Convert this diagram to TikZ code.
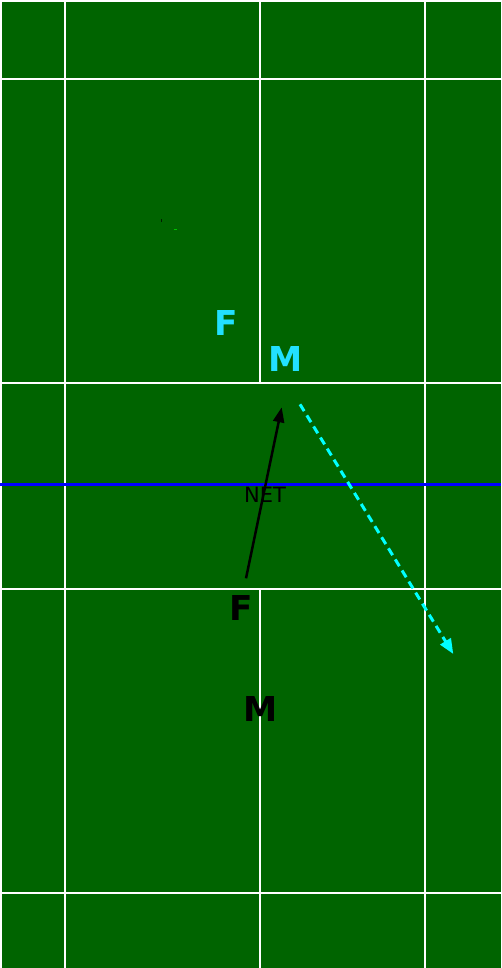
\documentclass[tikz,border=0pt]{standalone}
\usepackage{fontspec}
\setmainfont{DejaVu Sans}
\usetikzlibrary{arrows.meta}
\definecolor{court}{RGB}{0,100,0}
\definecolor{plcyan}{RGB}{34,224,255}
\definecolor{arrcyan}{RGB}{0,255,255}
\definecolor{netblue}{RGB}{0,0,255}
\tikzset{
  courtline/.style={draw=white,line width=2pt},
  player/.style={font=\fontsize{34.3}{34.3}\selectfont\bfseries,inner sep=0pt,anchor=center},
  cyanplayer/.style={player,text=plcyan},
  blackplayer/.style={player,text=black},
  netlabel/.style={font=\fontsize{21}{21}\selectfont,text=black,inner sep=0pt},
  shotarrow/.style={draw=black,line width=2.5pt,-{Triangle[length=15pt,width=11pt]}},
  cyanarrow/.style={draw=arrcyan,line width=3pt,dash pattern=on 8pt off 5pt,-{Triangle[length=15pt,width=12pt]}}
}
\begin{document}
\begin{tikzpicture}[x=1pt,y=-1pt]
\useasboundingbox (0,0) rectangle (501,968);
\fill[court] (0,0) rectangle (501,968);
% court lines
\draw[courtline] (1,0) -- (1,968);
\draw[courtline] (0,1) -- (501,1);
\draw[courtline] (65,0) -- (65,968);
\draw[courtline] (425,0) -- (425,968);
\draw[courtline] (0,79) -- (501,79);
\draw[courtline] (0,383) -- (501,383);
\draw[courtline] (0,589) -- (501,589);
\draw[courtline] (0,892.5) -- (501,892.5);
\draw[courtline] (260,0) -- (260,383);
\draw[courtline] (260,589) -- (260,968);
% net
\draw[draw=netblue,line width=3pt] (0,484.5) -- (501,484.5);
\node[netlabel] (net) at (265,495) {NET};
% specks
\fill[black!70!court] (160.5,219) rectangle (161.5,222.5);
\fill[green!60!court] (173.5,228.7) rectangle (177,229.5);
% players
\node[cyanplayer] (cf) at (226.3,323.2) {F};
\node[cyanplayer] (cm) at (285.6,358.8) {M};
\node[blackplayer] (bf) at (241.2,608.3) {F};
\node[blackplayer] (bm) at (260.4,709.2) {M};
% shots
\coordinate (s1) at (246,578.3);
\coordinate (e1) at (281.7,407.3);
\coordinate (s2) at (300,404.3);
\coordinate (e2) at (453.3,654);
\draw[shotarrow] (s1) -- (e1);
\draw[cyanarrow] (s2) -- (e2);
\end{tikzpicture}
\end{document}
